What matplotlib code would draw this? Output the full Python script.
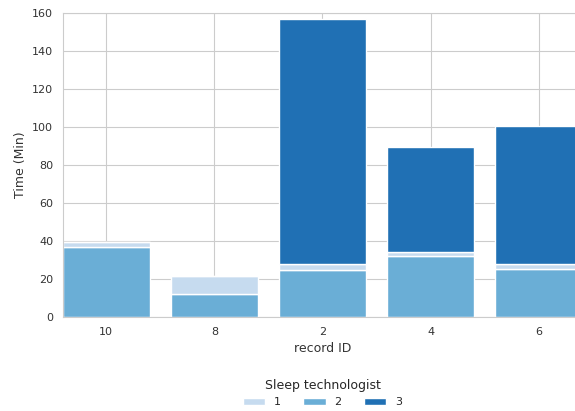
import matplotlib
matplotlib.use("Agg")
import matplotlib.pyplot as plt
import seaborn as sns
import numpy as np

sns.set_style("whitegrid")
plt.rcParams['font.family'] = ['DejaVu Sans']

records = ["10", "8", "2", "4", "6"]
# stacked from bottom: technologist 2, then 1, then 3
tech2 = [37, 12, 24.5, 32, 25.5]
tech1 = [2.5, 9.5, 3.5, 2, 2.5]
tech3 = [0, 0, 129, 55.5, 72.5]

colors = sns.color_palette("Blues", 3)

fig = plt.figure(figsize=(5.75, 4.11), dpi=100)
ax = fig.add_axes([0.1096, 0.2287, 0.9024, 0.7393])

x = np.arange(len(records))
b2 = ax.bar(x, tech2, width=0.8, color=colors[1], edgecolor="white", linewidth=1, label="2")
b1 = ax.bar(x, tech1, width=0.8, bottom=tech2, color=colors[0], edgecolor="white", linewidth=1, label="1")
base3 = np.array(tech2) + np.array(tech1)
b3 = ax.bar(x, tech3, width=0.8, bottom=base3, color=colors[2], edgecolor="white", linewidth=1, label="3")

ax.set_xlim(-0.4, len(records) - 0.6)
ax.set_ylim(0, 160)
ax.set_xticks(x)
ax.set_xticklabels(records)
ax.tick_params(labelsize=8, colors="#333333")
ax.set_xlabel("record ID", fontsize=9, color="#333333")
ax.set_ylabel("Time (Min)", fontsize=9, color="#333333")
ax.set_axisbelow(True)

ax.legend([b1, b2, b3], ["1", "2", "3"], title="Sleep technologist",
          loc="upper center", bbox_to_anchor=(0.5, -0.17), ncol=3,
          frameon=False, fontsize=8, title_fontsize=9,
          handlelength=2.0, handleheight=0.6, handletextpad=0.8,
          columnspacing=2.0)

fig.savefig("out.png", dpi=100)
